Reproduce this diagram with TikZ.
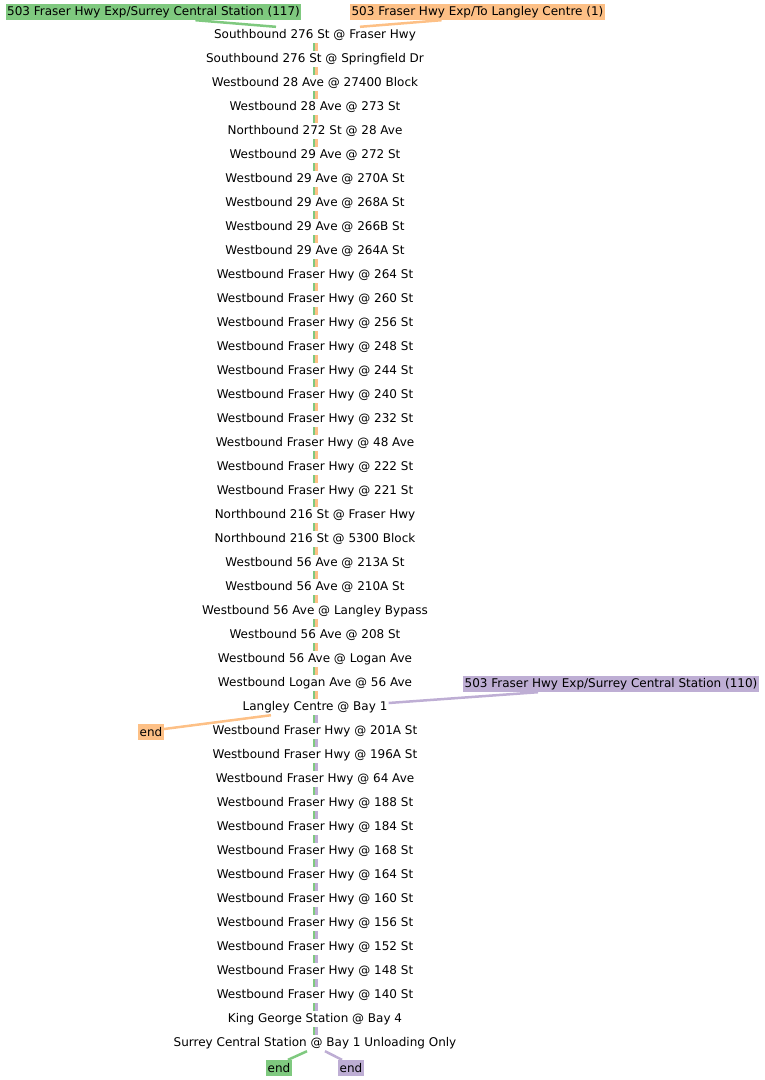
\documentclass[tikz,border=0pt]{standalone}
\usepackage{fontspec}
\setmainfont{DejaVu Sans}
\definecolor{grn}{HTML}{7FC97F}
\definecolor{org}{HTML}{FDC086}
\definecolor{pur}{HTML}{BEAED4}
\tikzset{
  stop/.style={inner sep=1pt,minimum height=16pt,font=\fontsize{12}{14}\selectfont},
  tag/.style={inner xsep=1.5pt,inner ysep=1pt,minimum height=16pt,font=\fontsize{12}{14}\selectfont},
  gline/.style={grn,line width=2.5pt},
  oline/.style={org,line width=2.5pt},
  pline/.style={pur,line width=2.5pt}
}
\begin{document}
\begin{tikzpicture}[x=1pt,y=-1pt,line cap=butt,line join=round]
  \useasboundingbox (0,0) rectangle (765,1080);
  % stops
  \foreach \t [count=\i] in {Southbound 276 St @ Fraser Hwy,
    Southbound 276 St @ Springfield Dr,Westbound 28 Ave @ 27400 Block,
    Westbound 28 Ave @ 273 St,Northbound 272 St @ 28 Ave,
    Westbound 29 Ave @ 272 St,Westbound 29 Ave @ 270A St,
    Westbound 29 Ave @ 268A St,Westbound 29 Ave @ 266B St,
    Westbound 29 Ave @ 264A St,Westbound Fraser Hwy @ 264 St,
    Westbound Fraser Hwy @ 260 St,Westbound Fraser Hwy @ 256 St,
    Westbound Fraser Hwy @ 248 St,Westbound Fraser Hwy @ 244 St,
    Westbound Fraser Hwy @ 240 St,Westbound Fraser Hwy @ 232 St,
    Westbound Fraser Hwy @ 48 Ave,Westbound Fraser Hwy @ 222 St,
    Westbound Fraser Hwy @ 221 St,Northbound 216 St @ Fraser Hwy,
    Northbound 216 St @ 5300 Block,Westbound 56 Ave @ 213A St,
    Westbound 56 Ave @ 210A St,Westbound 56 Ave @ Langley Bypass,
    Westbound 56 Ave @ 208 St,Westbound 56 Ave @ Logan Ave,
    Westbound Logan Ave @ 56 Ave,Langley Centre @ Bay 1,
    Westbound Fraser Hwy @ 201A St,Westbound Fraser Hwy @ 196A St,
    Westbound Fraser Hwy @ 64 Ave,Westbound Fraser Hwy @ 188 St,
    Westbound Fraser Hwy @ 184 St,Westbound Fraser Hwy @ 168 St,
    Westbound Fraser Hwy @ 164 St,Westbound Fraser Hwy @ 160 St,
    Westbound Fraser Hwy @ 156 St,Westbound Fraser Hwy @ 152 St,
    Westbound Fraser Hwy @ 148 St,Westbound Fraser Hwy @ 140 St,
    King George Station @ Bay 4,
    Surrey Central Station @ Bay 1 Unloading Only}
    \node[stop] (s\i) at (315,{11+24*\i}) {\t};
  % route labels
  \node[tag,fill=grn] (g117) at (153.5,12) {503 Fraser Hwy Exp/Surrey Central Station (117)};
  \node[tag,fill=org] (o1) at (477.5,12) {503 Fraser Hwy Exp/To Langley Centre (1)};
  \node[tag,fill=pur] (p110) at (611,684) {503 Fraser Hwy Exp/Surrey Central Station (110)};
  \node[tag,fill=org] (oend) at (151,732) {end};
  \node[tag,fill=grn] (gend) at (279,1068) {end};
  \node[tag,fill=pur] (pend) at (351,1068) {end};
  % runs
  \foreach \i in {1,...,42}{
    \pgfmathtruncatemacro\j{\i+1}
    \draw[gline] ([xshift=-1.25pt]s\i.south) -- ([xshift=-1.25pt]s\j.north);
  }
  \foreach \i in {1,...,28}{
    \pgfmathtruncatemacro\j{\i+1}
    \draw[oline] ([xshift=1.25pt]s\i.south) -- ([xshift=1.25pt]s\j.north);
  }
  \foreach \i in {29,...,42}{
    \pgfmathtruncatemacro\j{\i+1}
    \draw[pline] ([xshift=1.25pt]s\i.south) -- ([xshift=1.25pt]s\j.north);
  }
  \draw[gline] ([xshift=42pt]g117.south) -- ([xshift=-39pt]s1.north);
  \draw[oline] ([xshift=-36pt]o1.south) -- ([xshift=45pt]s1.north);
  \draw[oline] ([xshift=-44pt]s29.south) -- ([yshift=3pt]oend.east);
  \draw[pline] ([yshift=4pt]s29.east) -- ([xshift=-73pt]p110.south);
  \draw[gline] ([xshift=-8pt]s43.south) -- ([xshift=9pt]gend.north);
  \draw[pline] ([xshift=10pt]s43.south) -- ([xshift=-9pt]pend.north);
\end{tikzpicture}
\end{document}
